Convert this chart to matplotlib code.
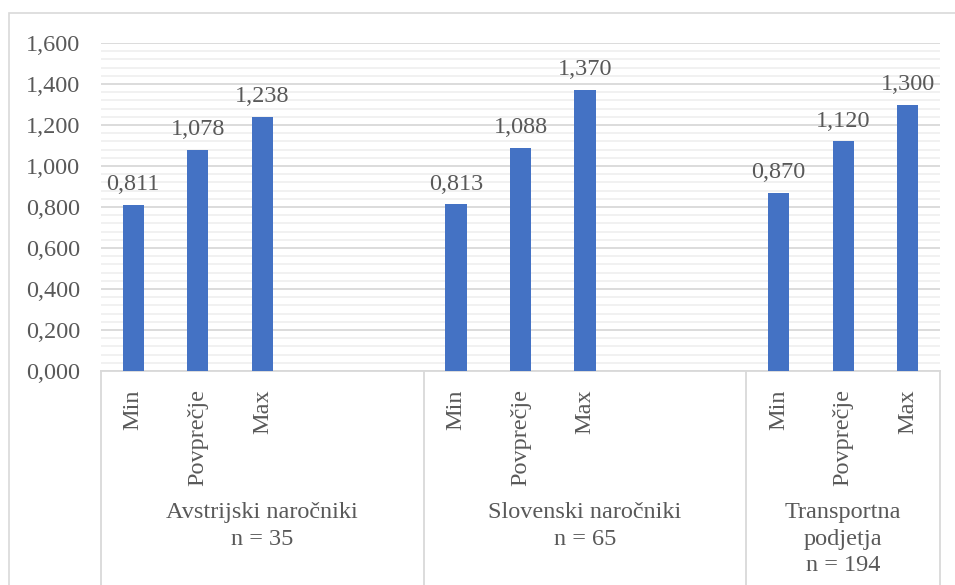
import matplotlib
matplotlib.use('Agg')
import matplotlib.pyplot as plt
import matplotlib.transforms as mtransforms
from matplotlib.patches import Rectangle
from matplotlib.ticker import MultipleLocator, FuncFormatter

plt.rcParams['font.family'] = ['Liberation Serif', 'DejaVu Serif']

##data
groups = ['Avstrijski naročniki\nn = 35', 'Slovenski naročniki\nn = 65', 'Transportna\npodjetja\nn = 194']
group_slots = [5, 5, 3]   # number of category slots each group takes on the axis
categories = ['Min', 'Povprečje', 'Max']
values = [[0.811, 1.078, 1.238],
          [0.813, 1.088, 1.370],
          [0.870, 1.120, 1.300]]

text_col = '#595959'
grid_col = '#d9d9d9'
bar_col = '#4472c4'
fs = 17.5

def fmt(v, pos=None):
    return '{:.3f}'.format(v).replace('.', ',')

fig = plt.figure(figsize=(9.55, 5.85), dpi=100)
ax = fig.add_axes([101/955, 1 - 371/585, 839/955, 328/585])

# chart border (only left and top edges fall inside the image)
fig.patches.append(Rectangle((9/955, -0.1), 1.2, 1.1 - 13/585, transform=fig.transFigure,
                             fill=False, edgecolor=grid_col, linewidth=1.2))

start = 0
xs, ys, ticklabels = [], [], []
bounds = [start - 0.5]
for g, n in enumerate(group_slots):
    for i, c in enumerate(categories):
        xs.append(start + i)
        ys.append(values[g][i])
        ticklabels.append(c)
    start += n
    bounds.append(start - 0.5)

bars = ax.bar(xs, ys, width=0.33, color=bar_col, zorder=3)
for x, y in zip(xs, ys):
    ax.annotate(fmt(y), (x, y), xytext=(0, 7), textcoords='offset points',
                ha='center', va='bottom', fontsize=fs, color=text_col)

ax.set_xlim(-0.5, start - 0.5)
ax.set_ylim(0, 1.6)
ax.yaxis.set_major_locator(MultipleLocator(0.2))
ax.yaxis.set_minor_locator(MultipleLocator(0.04))
ax.yaxis.set_major_formatter(FuncFormatter(fmt))
ax.grid(axis='y', which='major', color=grid_col, linewidth=1.3, zorder=0)
ax.grid(axis='y', which='minor', color='#f0f0f0', linewidth=1.3, zorder=0)
ax.set_axisbelow(True)
ax.tick_params(axis='y', which='both', length=0, labelsize=fs, labelcolor=text_col, pad=15)
ax.tick_params(axis='x', length=0)
ax.set_xticks([])

for s in ['top', 'right', 'left']:
    ax.spines[s].set_visible(False)
ax.spines['bottom'].set_color(grid_col)
ax.spines['bottom'].set_linewidth(1.3)

trans = mtransforms.blended_transform_factory(ax.transData, ax.transAxes)

# separators between the groups below the axis
for b in bounds:
    ax.plot([b, b], [0, -0.7], transform=trans, color=grid_col, linewidth=1.3, clip_on=False)

# rotated category labels
for x, lab in zip(xs, ticklabels):
    ax.text(x, -0.055, lab, transform=trans, rotation=90, ha='center', va='top',
            fontsize=fs, color=text_col)

# group labels
for g, lab in enumerate(groups):
    cx = (bounds[g] + bounds[g + 1]) / 2
    ax.text(cx, -0.4, lab, transform=trans, ha='center', va='top',
            fontsize=fs, color=text_col, linespacing=1.35)

fig.savefig('out.png', dpi=100)
